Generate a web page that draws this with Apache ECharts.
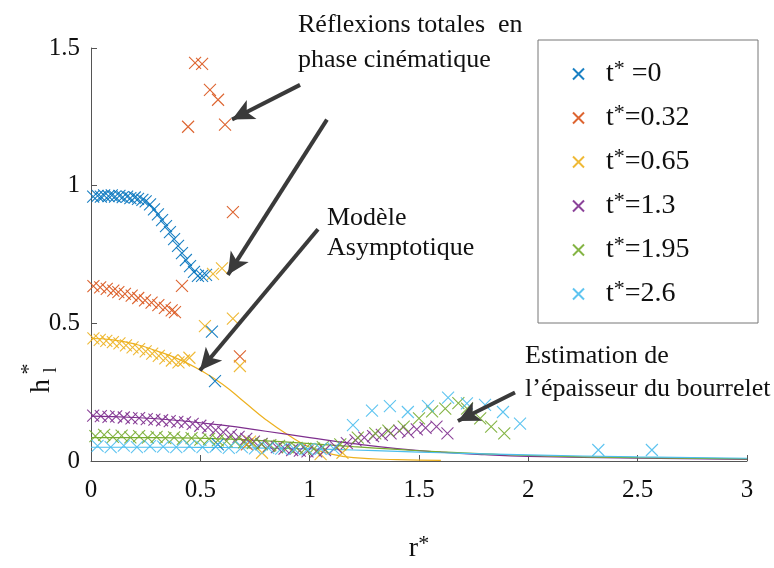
<!DOCTYPE html>
<html>
<head>
<meta charset="utf-8">
<script src="https://cdn.jsdelivr.net/npm/echarts@6/dist/echarts.min.js"></script>
<style>
  html, body { margin: 0; padding: 0; background: #fff; }
  #chart { width: 774px; height: 568px; }
</style>
</head>
<body>
<div id="chart"></div>
<script>
// Measured film thickness profiles h*_l(r*) at several times t*
const seriesNames = ['t*=0', 't*=0.32', 't*=0.65', 't*=1.3', 't*=1.95', 't*=2.6'];
const legendLabels = [' =0', '=0.32', '=0.65', '=1.3', '=1.95', '=2.6'];
const colors = ['#0072BD', '#D95319', '#EDB120', '#7E2F8E', '#77AC30', '#4DBEEE'];

const xTicks = [0, 0.5, 1, 1.5, 2, 2.5, 3];
const yTicks = [0, 0.5, 1, 1.5];

// t* = 0
const r0 = [0.01,0.03,0.045,0.06,0.08,0.095,0.11,0.13,0.145,0.165,0.18,0.2,0.215,0.235,0.25,
            0.27,0.288,0.306,0.325,0.343,0.361,0.38,0.398,0.416,0.434,0.453,0.471,0.489,0.508,0.526,
            0.553,0.567,0.58];
const h0 = [0.96,0.963,0.96,0.965,0.962,0.965,0.96,0.963,0.958,0.96,0.955,0.957,0.952,0.948,0.943,
            0.932,0.914,0.896,0.875,0.853,0.831,0.806,0.781,0.755,0.73,0.708,0.687,0.672,0.672,0.676,
            0.47,0.29,0.06];
// t* = 0.32
const r1 = [0.011,0.042,0.072,0.102,0.125,0.155,0.186,0.216,0.247,0.277,0.308,0.338,0.369,0.384,
            0.416,0.444,0.476,0.508,0.544,0.581,0.613,0.649,0.681,0.713];
const h1 = [0.635,0.631,0.625,0.619,0.613,0.607,0.601,0.592,0.583,0.575,0.566,0.556,0.547,0.541,
            0.636,1.214,1.446,1.442,1.348,1.312,1.222,0.904,0.38,0.06];
// t* = 0.65
const r2 = [0.011,0.04,0.07,0.10,0.13,0.16,0.19,0.22,0.25,0.28,0.31,0.34,0.37,0.40,0.425,0.45,
            0.521,0.558,0.599,0.649,0.681,0.727,0.782,1.05,1.15];
const h2 = [0.445,0.44,0.436,0.432,0.427,0.42,0.413,0.406,0.398,0.39,0.382,0.373,0.365,0.358,0.365,0.375,
            0.49,0.68,0.70,0.517,0.345,0.07,0.03,0.025,0.03];
// t* = 1.3
const r3 = [0.01,0.045,0.08,0.115,0.15,0.185,0.22,0.255,0.29,0.325,0.36,0.395,0.43,0.465,0.5,0.535,
            0.57,0.605,0.64,0.675,0.71,0.745,0.78,0.815,0.85,0.885,0.92,0.955,0.99,1.03,1.07,
            1.12,1.17,1.21,1.25,1.29,1.33,1.37,1.41,1.45,1.49,1.53,1.58,1.63];
const h3 = [0.165,0.163,0.16,0.162,0.158,0.155,0.156,0.152,0.15,0.148,0.145,0.142,0.14,0.135,0.128,0.122,
            0.112,0.105,0.095,0.088,0.08,0.07,0.062,0.055,0.05,0.045,0.04,0.038,0.035,0.035,0.04,
            0.05,0.065,0.075,0.085,0.09,0.095,0.1,0.11,0.105,0.115,0.12,0.125,0.1];
// t* = 1.95
const r4 = [0.02,0.06,0.1,0.14,0.18,0.22,0.26,0.3,0.34,0.38,0.42,0.46,0.5,0.54,0.58,0.62,0.66,0.7,
            0.74,0.78,0.82,0.86,0.9,0.94,0.98,1.02,1.06,
            1.14,1.22,1.3,1.36,1.43,1.5,1.56,1.62,1.68,1.72,1.78,1.83,1.89];
const h4 = [0.09,0.095,0.088,0.092,0.086,0.09,0.085,0.088,0.083,0.086,0.08,0.083,0.078,0.08,0.075,0.072,0.07,0.068,
            0.065,0.06,0.058,0.055,0.05,0.048,0.045,0.045,0.05,
            0.06,0.085,0.1,0.11,0.125,0.155,0.18,0.19,0.21,0.19,0.155,0.125,0.1];
// t* = 2.6
const r5 = [0.03,0.09,0.15,0.21,0.27,0.33,0.39,0.45,0.51,0.57,0.63,0.69,0.75,0.81,0.87,0.93,0.99,1.05,1.11,
            1.198,1.285,1.367,1.449,1.541,1.633,1.719,1.802,1.884,1.962,2.32,2.565];
const h5 = [0.055,0.05,0.056,0.05,0.054,0.052,0.05,0.055,0.05,0.052,0.048,0.05,0.046,0.048,0.045,0.043,0.042,0.044,0.045,
            0.13,0.183,0.199,0.178,0.199,0.23,0.209,0.204,0.178,0.136,0.04,0.04];

// Asymptotic model curves
const modelR2 = [0,0.1,0.2,0.3,0.4,0.5,0.6,0.7,0.8,0.9,1.0,1.1,1.2,1.4,1.6];
const modelH2 = [0.445,0.44,0.425,0.40,0.37,0.33,0.28,0.215,0.15,0.095,0.05,0.025,0.012,0.005,0.002];
const modelR = [0,0.2,0.4,0.6,0.8,1.0,1.2,1.4,1.6,1.8,2.0,2.5,3.0];
const modelH3 = [0.163,0.158,0.147,0.13,0.108,0.085,0.063,0.045,0.032,0.023,0.017,0.01,0.006];
const modelH4 = [0.085,0.085,0.084,0.08,0.073,0.063,0.052,0.042,0.033,0.026,0.02,0.012,0.008];
const modelH5 = [0.05,0.05,0.05,0.049,0.047,0.044,0.04,0.035,0.03,0.026,0.022,0.015,0.01];

// Annotation arrows, [start, end] in data coordinates
const arrows = [
  [[0.956, 1.366], [0.645, 1.240]],
  [[1.079, 1.240], [0.626, 0.676]],
  [[1.038, 0.842], [0.498, 0.329]],
  [[1.939, 0.249], [1.678, 0.145]]
];

const SERIF = '"Liberation Serif", "DejaVu Serif", serif';
const CROSS = 'path://M0,0L10,10M10,0L0,10';

const zip = (xs, ys) => xs.map((x, i) => [x, ys[i]]);
const pointSets = [zip(r0, h0), zip(r1, h1), zip(r2, h2), zip(r3, h3), zip(r4, h4), zip(r5, h5)];

const series = pointSets.map((pts, i) => ({
  name: seriesNames[i],
  type: 'scatter',
  data: pts,
  symbol: CROSS,
  symbolSize: 12,
  itemStyle: { color: 'rgba(0,0,0,0)', borderColor: colors[i], borderWidth: 1.1, opacity: 0.9 },
  z: 3
}));

const lines = [
  [zip(modelR2, modelH2), colors[2]],
  [zip(modelR, modelH3), colors[3]],
  [zip(modelR, modelH4), colors[4]],
  [zip(modelR, modelH5), colors[5]]
];
lines.forEach(([pts, c]) => series.push({
  type: 'line', data: pts, smooth: true, showSymbol: false, silent: true,
  lineStyle: { color: c, width: 1.2 }, z: 2
}));

series.push({
  type: 'line', data: [], silent: true,
  markLine: {
    silent: true, symbol: ['none', 'arrow'], symbolSize: [16, 22],
    label: { show: false },
    lineStyle: { color: '#3a3a3a', width: 4, type: 'solid' },
    data: arrows.map(a => [{ coord: a[0] }, { coord: a[1] }])
  }
});

const chart = echarts.init(document.getElementById('chart'));
const txt = (x, y, s) => ({
  type: 'text', x, y,
  style: { text: s, font: '26px ' + SERIF, fill: '#111', textVerticalAlign: 'middle' }
});

chart.setOption({
  animation: false,
  backgroundColor: '#fff',
  grid: { left: 91, right: 27, top: 48, bottom: 105 },
  xAxis: {
    type: 'value', min: 0, max: 3, interval: 0.5,
    name: '{a|r}{b|*}', nameLocation: 'middle', nameGap: 72,
    nameTextStyle: { rich: {
      a: { fontFamily: SERIF, fontSize: 28, color: '#111', lineHeight: 32 },
      b: { fontFamily: SERIF, fontSize: 22, color: '#111', lineHeight: 22, verticalAlign: 'top' }
    } },
    axisLine: { lineStyle: { color: '#555', width: 1 } },
    axisTick: { inside: true, length: 6, lineStyle: { color: '#555' } },
    splitLine: { show: false },
    axisLabel: { fontFamily: SERIF, fontSize: 25, color: '#111', margin: 17,
                 formatter: v => String(v) }
  },
  yAxis: {
    type: 'value', min: 0, max: 1.5, interval: 0.5,
    axisLine: { show: true, lineStyle: { color: '#555', width: 1 } },
    axisTick: { show: true, inside: true, length: 6, lineStyle: { color: '#555' } },
    splitLine: { show: false },
    axisLabel: { fontFamily: SERIF, fontSize: 25, color: '#111', margin: 11,
                 formatter: v => String(v) }
  },
  legend: {
    data: seriesNames,
    orient: 'vertical', left: 567, top: 53,
    itemWidth: 11, itemHeight: 11, itemGap: 14,
    formatter: name => '{t|t}{s|*}{v|' + legendLabels[seriesNames.indexOf(name)] + '}',
    textStyle: { padding: [0, 0, 0, 17], rich: {
      t: { fontFamily: SERIF, fontSize: 28, color: '#111', lineHeight: 32 },
      s: { fontFamily: SERIF, fontSize: 22, color: '#111', lineHeight: 20, verticalAlign: 'top' },
      v: { fontFamily: SERIF, fontSize: 28, color: '#111', lineHeight: 32 }
    } }
  },
  graphic: [
    { type: 'rect', shape: { x: 538, y: 40, width: 220, height: 283 },
      style: { fill: 'rgba(255,255,255,0)', stroke: '#777', lineWidth: 1 }, z: 1 },
    txt(298, 25, 'Réflexions totales  en'),
    txt(298, 60, 'phase cinématique'),
    txt(327, 218, 'Modèle'),
    txt(327, 248, 'Asymptotique'),
    txt(525, 356, 'Estimation de'),
    txt(525, 389, 'l’épaisseur du bourrelet'),
    { type: 'group', x: 42, y: 386, rotation: Math.PI / 2, children: [
      { type: 'text', x: 0, y: 0, style: { text: 'h', font: '28px ' + SERIF, fill: '#111',
        textAlign: 'center', textVerticalAlign: 'middle' } },
      { type: 'text', x: 17, y: -13, style: { text: '*', font: '22px ' + SERIF, fill: '#111',
        textAlign: 'center', textVerticalAlign: 'middle' } },
      { type: 'text', x: 16, y: 9, style: { text: 'l', font: '18px ' + SERIF, fill: '#111',
        textAlign: 'center', textVerticalAlign: 'middle' } }
    ] }
  ],
  series
});
</script>
</body>
</html>
